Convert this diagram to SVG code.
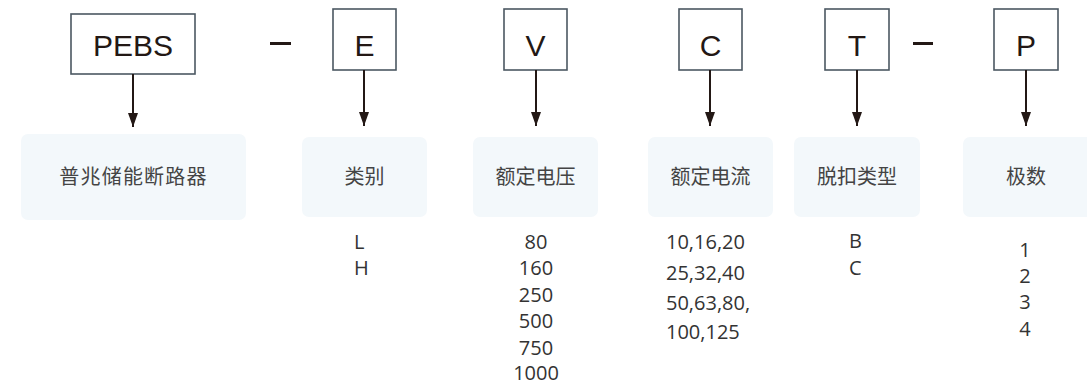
<svg xmlns="http://www.w3.org/2000/svg" width="1087" height="386" viewBox="0 0 1087 386">
<style>
.code{fill:#fff;stroke:#4b5862;stroke-width:1.6}
.ct{font-family:"Liberation Sans",Arial,sans-serif;font-size:30px;fill:#231815;text-anchor:middle}
.lb{fill:#f3f8fb}
.lt{font-family:"Noto Sans CJK SC","Noto Sans",sans-serif;font-size:20px;fill:#444;text-anchor:middle}
.vt{font-family:"Open Sans","Noto Sans",sans-serif;font-size:20px;fill:#333}
.c{text-anchor:middle}
.conn line{stroke:#231815;stroke-width:2}
.dash{stroke:#231815;stroke-width:3}
</style>
<defs>
<marker id="ah" markerWidth="14" markerHeight="10" refX="14" refY="5" orient="auto" markerUnits="userSpaceOnUse" viewBox="0 0 14 10">
<path d="M0,0 L14,5 L0,10 Z" fill="#231815"/>
</marker>
</defs>
<rect width="1087" height="386" fill="#fff"/>
<g id="pebs"><rect class="code" x="71" y="14" width="124" height="60"/><text class="ct" x="133" y="56">PEBS</text></g>
<g id="e"><rect class="code" x="333" y="9" width="63" height="61"/><text class="ct" x="364.5" y="56">E</text></g>
<g id="v"><rect class="code" x="504" y="9" width="63" height="61"/><text class="ct" x="535.5" y="56">V</text></g>
<g id="c"><rect class="code" x="679" y="9" width="63" height="61"/><text class="ct" x="710.5" y="56">C</text></g>
<g id="t"><rect class="code" x="825" y="9" width="64" height="61"/><text class="ct" x="857" y="56">T</text></g>
<g id="p"><rect class="code" x="994" y="9" width="64" height="61"/><text class="ct" x="1026" y="56">P</text></g>
<g id="dashes"><line class="dash" x1="270" y1="43.5" x2="291" y2="43.5"/><line class="dash" x1="913" y1="43.5" x2="933" y2="43.5"/></g>
<g class="conn" id="connectors">
<line x1="133" y1="74" x2="133" y2="127" marker-end="url(#ah)"/>
<line x1="364" y1="70" x2="364" y2="126" marker-end="url(#ah)"/>
<line x1="536" y1="70" x2="536" y2="126" marker-end="url(#ah)"/>
<line x1="710" y1="70" x2="710" y2="126" marker-end="url(#ah)"/>
<line x1="857" y1="70" x2="857" y2="126" marker-end="url(#ah)"/>
<line x1="1026" y1="70" x2="1026" y2="126" marker-end="url(#ah)"/>
</g>
<g id="lb-brand"><rect class="lb" x="21" y="134" width="225" height="86" rx="7"/><text class="lt" x="133.5" y="184" letter-spacing="1.2">普兆储能断路器</text></g>
<g id="lb-type"><rect class="lb" x="302" y="137" width="125" height="80" rx="7"/><text class="lt" x="364.5" y="184">类别</text></g>
<g id="lb-volt"><rect class="lb" x="473" y="137" width="125" height="80" rx="7"/><text class="lt" x="535.5" y="184">额定电压</text></g>
<g id="lb-curr"><rect class="lb" x="648" y="137" width="125" height="80" rx="7"/><text class="lt" x="710.5" y="184">额定电流</text></g>
<g id="lb-trip"><rect class="lb" x="794" y="137" width="126" height="80" rx="7"/><text class="lt" x="857" y="184">脱扣类型</text></g>
<g id="lb-pole"><rect class="lb" x="963" y="137" width="130" height="80" rx="7"/><text class="lt" x="1026" y="184">极数</text></g>
<g id="vals-type" class="vt"><text x="354" y="249">L</text><text x="354" y="275">H</text></g>
<g id="vals-volt" class="vt c"><text x="536" y="249">80</text><text x="536" y="275">160</text><text x="536" y="302">250</text><text x="536" y="328">500</text><text x="536" y="355">750</text><text x="536" y="380">1000</text></g>
<g id="vals-curr" class="vt"><text x="666" y="249">10,16,20</text><text x="666" y="280">25,32,40</text><text x="666" y="310">50,63,80,</text><text x="666" y="339">100,125</text></g>
<g id="vals-trip" class="vt"><text x="849" y="248">B</text><text x="849" y="275">C</text></g>
<g id="vals-pole" class="vt c"><text x="1025" y="257">1</text><text x="1025" y="283">2</text><text x="1025" y="309">3</text><text x="1025" y="336">4</text></g>
</svg>
